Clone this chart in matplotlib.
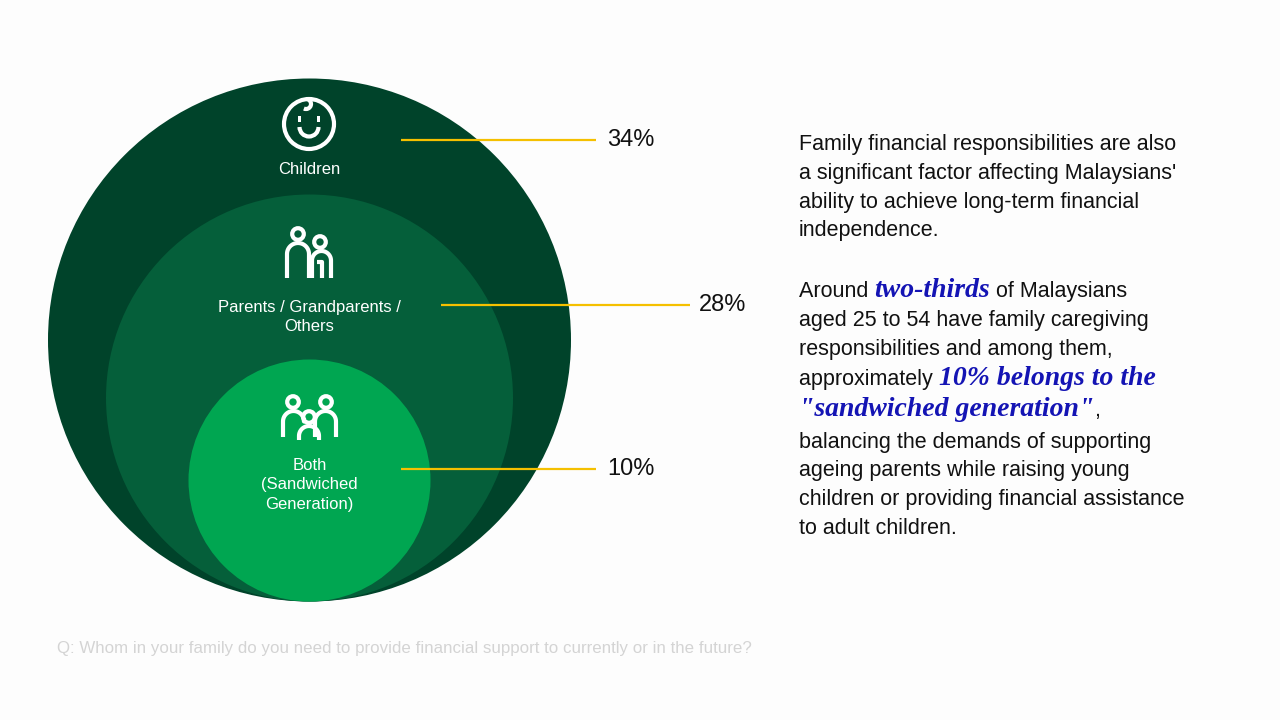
import numpy as np
import matplotlib
matplotlib.use("Agg")
import matplotlib.pyplot as plt
from matplotlib import patches

plt.rcParams['font.family'] = ['Liberation Sans', 'DejaVu Sans']

# data
groups = ['Children', 'Parents / Grandparents /\nOthers', 'Both\n(Sandwiched\nGeneration)']
shares = [34, 28, 10]
share_labels = ['%d%%' % v for v in shares]
question = 'Q: Whom in your family do you need to provide financial support to currently or in the future?'

# layout (pixel coords, y down)
circ_cx = 309.5
circ_r = [261.5, 203.5, 121]
circ_bottom = 601.5
circ_col = ['#00432a', '#055f3a', '#00a651']
label_y = [169, 317, 485]
line_y = [140, 305, 469]
line_x0 = [401, 441, 401]
line_x1 = [596, 690, 596]
pct_x = [607, 699, 607]
yellow = '#f5c000'
blue = '#1414b4'

fig = plt.figure(figsize=(12.8, 7.2), dpi=100)
fig.patch.set_facecolor('#fdfdfd')
ax = fig.add_axes([0, 0, 1, 1])
ax.set_xlim(0, 1280)
ax.set_ylim(720, 0)
ax.set_aspect('equal')
ax.axis('off')

for r, c in zip(circ_r, circ_col):
    ax.add_patch(patches.Circle((circ_cx, circ_bottom - r), r, facecolor=c, edgecolor='none'))

for g, ly in zip(groups, label_y):
    ax.text(circ_cx, ly, g, color='white', fontsize=12, ha='center', va='center', linespacing=1.35)

for y, x0, x1, px, lab in zip(line_y, line_x0, line_x1, pct_x, share_labels):
    ax.plot([x0, x1], [y, y], color=yellow, lw=1.6, solid_capstyle='butt')
    ax.text(px, y, lab, fontsize=17, color='#111111', ha='left', va='center')

# icons
w = 'white'
lw = 3.0


def arch(x0, x1, top, bottom, left=True, right=True, inner_end=None):
    rr = (x1 - x0) / 2.0
    cx = x0 + rr
    cy = top + rr
    th = np.linspace(np.pi, 2 * np.pi, 30)
    xs = list(cx + rr * np.cos(th))
    ys = list(cy + rr * np.sin(th))
    if left:
        xs = [x0] + xs
        ys = [bottom] + ys
    if right:
        xs = xs + [x1]
        ys = ys + [bottom if inner_end is None else inner_end]
    ax.plot(xs, ys, color=w, lw=lw, solid_capstyle='butt', solid_joinstyle='round')


def head(x, y, r=5.8):
    ax.add_patch(patches.Circle((x, y), r, facecolor='none', edgecolor=w, lw=lw))


# smiley
ax.add_patch(patches.Circle((309, 124), 25, facecolor='none', edgecolor=w, lw=lw))
for ex in [299.5, 318.5]:
    ax.add_patch(patches.Rectangle((ex - 1.8, 116), 3.6, 6, facecolor=w, edgecolor='none'))
ax.add_patch(patches.Arc((309, 127), 19, 19, theta1=0, theta2=180, color=w, lw=lw))
ax.add_patch(patches.Arc((306, 104), 10, 10, theta1=-85, theta2=115, color=w, lw=lw))

# parents
head(298, 234)
arch(287, 309, 243, 278)
head(320, 242)
arch(312, 331, 251, 278)
ax.plot([317, 322, 322], [262, 262, 278], color=w, lw=lw, solid_capstyle='butt')

# both
head(293, 402)
arch(283, 304, 411, 437, right=True, inner_end=418)
head(326, 402)
arch(315, 336, 411, 437, left=True, right=True)
head(309, 417)
arch(299, 319, 426, 440)

# right hand text
fs = 15.5
body = dict(fontsize=fs, color='#111111')
emph = dict(fontsize=20, color=blue, family=['Liberation Serif'], style='italic', weight='bold')

para = [
    (150, [('Family financial responsibilities are also', body)]),
    (179, [('a significant factor affecting Malaysians\'', body)]),
    (208, [('ability to achieve long-term financial', body)]),
    (236, [('independence.', body)]),
    (297, [('Around ', body), ('two-thirds', emph), (' of Malaysians', body)]),
    (326, [('aged 25 to 54 have family caregiving', body)]),
    (355, [('responsibilities and among them,', body)]),
    (385, [('approximately ', body), ('10% belongs to the', emph)]),
    (416, [('"sandwiched generation"', emph), (',', body)]),
    (448, [('balancing the demands of supporting', body)]),
    (476, [('ageing parents while raising young', body)]),
    (505, [('children or providing financial assistance', body)]),
    (534, [('to adult children.', body)]),
]

fig.canvas.draw()
renderer = fig.canvas.get_renderer()
for y, segs in para:
    x = 799
    for s, st in segs:
        t = ax.text(x, y, s, ha='left', va='baseline', **st)
        bb = t.get_window_extent(renderer)
        x = bb.x1

ax.text(57, 649, question, fontsize=12.2, color='#d4d4d4', ha='left', va='center')

fig.savefig('out.png', dpi=100, facecolor=fig.get_facecolor())
